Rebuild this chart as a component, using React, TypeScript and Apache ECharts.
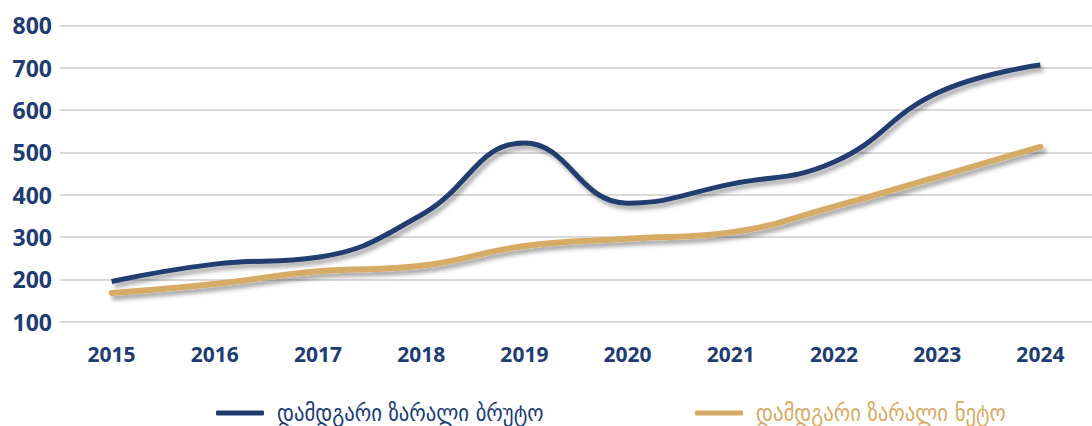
import React, { useEffect, useRef } from "react";
import * as echarts from "echarts";

const years = ["2015", "2016", "2017", "2018", "2019", "2020", "2021", "2022", "2023", "2024"];
const grossName = "დამდგარი ზარალი ბრუტო";
const netName = "დამდგარი ზარალი ნეტო";
const grossValues = [195, 236, 252, 352, 522, 380, 425, 477, 640, 706];
const netValues = [168, 189, 219, 232, 279, 296, 311, 372, 442, 513];
const yTicks = [100, 200, 300, 400, 500, 600, 700, 800];

const BLUE = "#203c70";
const GOLD = "#d6ab66";

export default function App() {
  const ref = useRef<HTMLDivElement>(null);
  useEffect(() => {
    document.body.style.margin = "0";
    const chart = echarts.init(ref.current!, null, { renderer: "svg" });
    const shadow = {
      shadowColor: "rgba(0,0,0,0.35)",
      shadowBlur: 4,
      shadowOffsetX: 3,
      shadowOffsetY: 4,
    };
    const legendBase = {
      top: 401,
      padding: 0,
      itemWidth: 48,
      itemHeight: 5,
      icon: "roundRect",
      textStyle: {
        fontFamily: "DejaVu Sans Condensed, DejaVu Sans",
        fontSize: 23,
        lineHeight: 24,
        fontWeight: "normal",
        padding: [0, 0, 0, 8],
      },
    };
    chart.setOption({
      animation: false,
      backgroundColor: "#ffffff",
      grid: { left: 60, top: 25.3, width: 1038, height: 296.4, containLabel: false },
      legend: [
        {
          ...legendBase,
          left: 216,
          data: [{ name: grossName, textStyle: { color: BLUE } }],
        },
        {
          ...legendBase,
          left: 695,
          data: [{ name: netName, textStyle: { color: GOLD } }],
        },
      ],
      xAxis: {
        type: "category",
        data: years,
        boundaryGap: true,
        axisLine: { show: false },
        axisTick: { show: false },
        axisLabel: {
          color: BLUE,
          fontFamily: "Noto Sans",
          fontWeight: "bold",
          fontSize: 21,
          margin: 22,
        },
      },
      yAxis: {
        type: "value",
        min: yTicks[0],
        max: yTicks[yTicks.length - 1],
        interval: 100,
        axisLine: { show: false },
        axisTick: { show: false },
        splitLine: { lineStyle: { color: "#d9d9d9", width: 2 } },
        axisLabel: {
          color: BLUE,
          fontFamily: "Noto Sans",
          fontWeight: "bold",
          fontSize: 23,
          margin: 8,
        },
      },
      series: [
        {
          name: grossName,
          type: "line",
          data: grossValues,
          smooth: 0.45,
          symbol: "none",
          color: BLUE,
          lineStyle: { color: BLUE, width: 5, cap: "butt", ...shadow },
        },
        {
          name: netName,
          type: "line",
          data: netValues,
          smooth: 0.45,
          symbol: "none",
          color: GOLD,
          lineStyle: { color: GOLD, width: 6, cap: "round", ...shadow },
        },
      ],
    });
    return () => chart.dispose();
  }, []);
  return <div ref={ref} style={{ width: 1092, height: 426 }} />;
}
